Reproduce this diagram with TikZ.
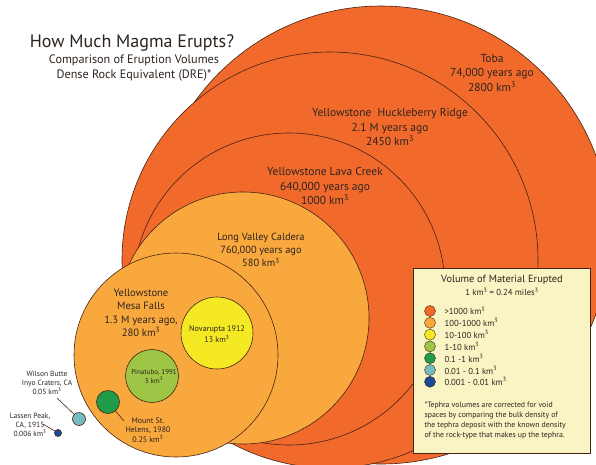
\documentclass[tikz,border=0pt]{standalone}
\usepackage{fontspec}
\setmainfont{PT Sans}
\definecolor{tobaorange}{RGB}{241,106,44}
\definecolor{lightorange}{RGB}{249,168,62}
\definecolor{novayellow}{RGB}{245,233,36}
\definecolor{pinagreen}{RGB}{158,197,70}
\definecolor{helensgreen}{RGB}{30,156,72}
\definecolor{wilsonteal}{RGB}{118,186,194}
\definecolor{lassenblue}{RGB}{24,74,152}
\definecolor{rimbrown}{RGB}{70,35,20}
\definecolor{labeltext}{RGB}{45,35,30}
\definecolor{legendyellow}{RGB}{248,244,196}

\begin{document}
\begin{tikzpicture}[x=1pt, y=-1pt,
    caldera/.style={circle, draw=rimbrown, line width=0.6pt, inner sep=0pt},
    lbl/.style={align=center, text=labeltext, font=\fontsize{11.5}{14.5}\selectfont},
    smalllbl/.style={align=center, text=labeltext, font=\fontsize{7.5}{9.2}\selectfont},
    leader/.style={draw=rimbrown, line width=0.6pt},
    key/.style={circle, draw=rimbrown, line width=0.4pt, minimum size=11pt, inner sep=0pt},
    keytext/.style={anchor=west, text=labeltext, font=\fontsize{8.7}{10}\selectfont}]
    \clip (0,0) rectangle (596,464);

    % タイトル
    \node[text=labeltext, font=\fontsize{18}{20}\selectfont] (title) at (132,43) {How Much Magma Erupts?};
    \node[text=labeltext, align=center, font=\fontsize{12.2}{15}\selectfont] (subtitle) at (134,68)
        {Comparison of Eruption Volumes\\Dense Rock Equivalent (DRE)*};

    % 円
    \node[caldera, fill=tobaorange, minimum size=458pt] (toba) at (381,235) {};
    \node[caldera, fill=tobaorange, minimum size=416pt] (huckleberry) at (330,260) {};
    \node[caldera, fill=tobaorange, minimum size=312pt] (lavacreek) at (289,289) {};
    \node[caldera, fill=lightorange, minimum size=252pt] (longvalley) at (243,318) {};
    \node[caldera, fill=lightorange, minimum size=204pt] (mesafalls) at (176,355) {};
    \node[caldera, fill=novayellow, minimum size=72pt] (novarupta) at (217,333) {};
    \node[caldera, fill=pinagreen, minimum size=53pt] (pinatubo) at (152,376) {};
    \node[caldera, fill=helensgreen, minimum size=23pt] (helens) at (108,402) {};
    \node[caldera, fill=wilsonteal, minimum size=13pt] (wilson) at (79,419) {};
    \node[caldera, fill=lassenblue, minimum size=7pt] (lassen) at (58,433) {};

    % ラベル
    \node[lbl] (tobalbl) at (492,73) {Toba\\74,000 years ago\\2800 km\textsuperscript{3}};
    \node[lbl] (huckleberrylbl) at (390,127) {Yellowstone\ \ Huckleberry Ridge\\2.1 M years ago\\2450 km\textsuperscript{3}};
    \node[lbl] (lavacreeklbl) at (325,186) {Yellowstone Lava Creek\\640,000 years ago\\1000 km\textsuperscript{3}};
    \node[lbl, font=\fontsize{10.4}{13.2}\selectfont] (longvalleylbl) at (261,250) {Long Valley Caldera\\760,000 years ago\\580 km\textsuperscript{3}};
    \node[lbl, font=\fontsize{10.6}{13.4}\selectfont] (mesafallslbl) at (141,313) {Yellowstone\\Mesa Falls\\1.3 M years ago,\\280 km\textsuperscript{3}};
    \node[smalllbl, font=\fontsize{8.1}{11}\selectfont] (novaruptalbl) at (217,334) {Novarupta 1912\\13 km\textsuperscript{3}};
    \node[smalllbl, font=\fontsize{7}{9}\selectfont] (pinatubolbl) at (154,377) {Pinatubo, 1991\\5 km\textsuperscript{3}};
    \node[smalllbl, font=\fontsize{8}{9.5}\selectfont] (helenslbl) at (148,430) {Mount St.\\Helens, 1980\\0.25 km\textsuperscript{3}};
    \node[smalllbl] (wilsonlbl) at (47,383) {Wilson Butte\\Inyo Craters, CA\\0.05 km\textsuperscript{3}};
    \node[smalllbl] (lassenlbl) at (30,425) {Lassen Peak,\\CA, 1915\\0.006 km\textsuperscript{3}};

    % 引き出し線
    \coordinate (helenstip) at (124,421);
    \coordinate (wilsontip) at (57,398);
    \coordinate (lassentip) at (43,424);
    \draw[leader] (helens) -- (helenstip);
    \draw[leader] (wilsontip) -- (wilson);
    \draw[leader] (lassentip) -- (lassen);

    % 凡例
    \node[draw=rimbrown, line width=0.6pt, fill=legendyellow, minimum width=177pt, minimum height=185pt,
        inner sep=0pt] (legendbox) at (501.5,360.5) {};
    \node[text=labeltext, font=\fontsize{10.4}{12}\selectfont] (legendtitle) at (502,280) {Volume of Material Erupted};
    \node[text=labeltext, font=\fontsize{8.7}{10}\selectfont] (legendsub) at (502,292)
        {1 km\textsuperscript{3} = 0.24 miles\textsuperscript{3}};
    \foreach \col/\txt [count=\i] in {tobaorange/{>1000 km\textsuperscript{3}},
            lightorange/{100-1000 km\textsuperscript{3}},
            novayellow/{10-100 km\textsuperscript{3}},
            pinagreen/{1-10 km\textsuperscript{3}},
            helensgreen/{0.1 -1 km\textsuperscript{3}},
            wilsonteal/{0.01 - 0.1 km\textsuperscript{3}},
            lassenblue/{0.001 - 0.01 km\textsuperscript{3}}} {
        \node[key, fill=\col] (key\i) at (430,{311+(\i-1)*11.8}) {};
        \node[keytext] (keytext\i) at (441,{311+(\i-1)*11.8}) {\txt};
    }
    \node[anchor=west, align=left, text=labeltext, font=\fontsize{7.8}{10}\selectfont] (footnote) at (421,421)
        {*Tephra volumes are corrected for void\\spaces by comparing the bulk density of\\the tephra deposit with the known density\\of the rock-type that makes up the tephra.};
\end{tikzpicture}
\end{document}
